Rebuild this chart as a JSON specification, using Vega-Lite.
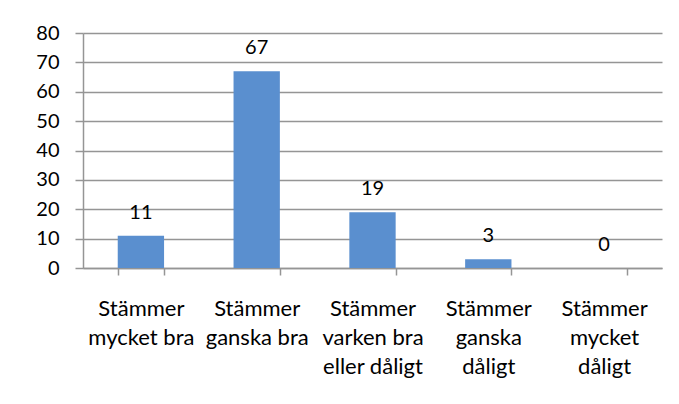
{
  "$schema": "https://vega.github.io/schema/vega-lite/v6.json",
  "width": 579,
  "height": 235,
  "padding": {"left": 83, "top": 33, "right": 17, "bottom": 136},
  "autosize": {"type": "none"},
  "background": "white",
  "config": {
    "view": {"stroke": null},
    "font": "Lato",
    "axis": {"labelFont": "Lato", "labelFontSize": 20, "labelColor": "#000000", "domainColor": "#959595", "tickColor": "#959595", "gridColor": "#959595", "titleFontSize": 0}
  },
  "data": {
    "values": [
      {"kategori": "Stämmer|mycket bra", "antal": 11},
      {"kategori": "Stämmer|ganska bra", "antal": 67},
      {"kategori": "Stämmer|varken bra|eller dåligt", "antal": 19},
      {"kategori": "Stämmer|ganska|dåligt", "antal": 3},
      {"kategori": "Stämmer|mycket|dåligt", "antal": 0}
    ]
  },
  "encoding": {
    "x": {
      "field": "kategori",
      "type": "nominal",
      "sort": null,
      "title": null,
      "scale": {"paddingInner": 0.6, "paddingOuter": 0.3},
      "axis": {
        "labelAngle": 0,
        "labelExpr": "datum.value ? split(datum.value, '|') : ''",
        "labelBaseline": "top",
        "labelFontSize": 22,
        "labelPadding": 23,
        "labelLineHeight": 29,
        "tickBand": "extent",
        "tickSize": 7,
        "domainWidth": 1.5,
        "tickWidth": 1.5
      }
    },
    "y": {
      "field": "antal",
      "type": "quantitative",
      "title": null,
      "scale": {"domain": [0, 80], "nice": false},
      "axis": {"values": [0, 10, 20, 30, 40, 50, 60, 70, 80], "tickSize": 8, "labelPadding": 16, "grid": true, "gridWidth": 1.5, "domainWidth": 1.5, "tickWidth": 1.5}
    }
  },
  "layer": [
    {"mark": {"type": "bar", "color": "#5A8FCF"}},
    {"mark": {"type": "text", "fontSize": 20, "font": "Lato", "color": "#000000", "baseline": "middle", "dy": -23}, "encoding": {"text": {"field": "antal", "type": "quantitative"}}}
  ]
}
